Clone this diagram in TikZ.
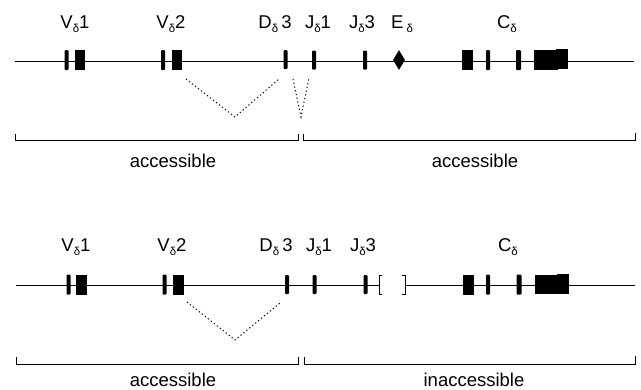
\documentclass[tikz,border=0pt]{standalone}
\usepackage{fontspec}
\setmainfont{Liberation Sans}
\usetikzlibrary{shapes.geometric}
% lowered small delta used as the locus subscript
\newcommand\dsub{\raisebox{-4pt}{\fontsize{11.5}{12}\selectfont δ}}
\begin{document}
\begin{tikzpicture}[x=1pt,y=-1pt,
  exon/.style={fill=black,draw=none,rectangle,inner sep=0pt,minimum height=20pt},
  bar/.style={exon,minimum width=4pt,rounded corners=1pt},
  enh/.style={fill=black,draw=none,diamond,inner sep=0pt,minimum width=12pt,minimum height=20pt},
  backbone/.style={line width=0.9pt},
  gap/.style={line width=0.9pt},
  recomb/.style={line width=1pt,dash pattern=on 1.2pt off 2.6pt},
  region/.style={line width=0.9pt},
  lbl/.style={anchor=base,inner sep=0pt,font=\fontsize{18.5}{20}\selectfont},
  reglbl/.style={anchor=base,inner sep=0pt,font=\fontsize{18.5}{20}\selectfont}]
\useasboundingbox (0,0) rectangle (641,389);

% ---------------- upper locus: enhancer present ----------------
\node[lbl] (tV1) at (75,28) {V\dsub1};
\node[lbl] (tV2) at (171,28) {V\dsub2};
\node[lbl] (tD3) at (275,28) {D\dsub\,3};
\node[lbl] (tJ1) at (318,28) {J\dsub1};
\node[lbl] (tJ3) at (362,28) {J\dsub3};
\node[lbl] (tE)  at (402,28) {E\,\dsub};
\node[lbl] (tC)  at (507,28) {C\dsub};

\coordinate (aL) at (15,61);
\coordinate (aR) at (634,61);
\draw[backbone] (aL) -- (aR);

\node[bar]  (aV1a) at (66.5,60) {};
\node[exon,minimum width=10pt] (aV1b) at (80,60) {};
\node[bar]  (aV2a) at (163,60) {};
\node[exon,minimum width=10pt] (aV2b) at (177,60) {};
\node[bar,minimum height=19pt] (aD3) at (285.5,59.5) {};
\node[bar,minimum height=19pt] (aJ1) at (314,60) {};
\node[bar,minimum height=19pt] (aJ3) at (365,60) {};
\node[enh]  (aE)  at (399,60) {};
\node[exon,minimum width=11pt] (aC1) at (467.5,60) {};
\node[bar]  (aC2) at (488,60) {};
\node[bar,minimum width=5pt] (aC3) at (518.5,60) {};
\node[exon,minimum width=24pt,minimum height=19.5pt] (aC4) at (545.5,60.2) {};
\node[exon,minimum width=12pt] (aC5) at (562,59) {};

% deletions joining V to D and D to J
\coordinate (a1s) at (186,79);
\coordinate (a1m) at (235,117);
\coordinate (a1e) at (279,79);
\draw[recomb] (a1s) -- (a1m) -- (a1e);
\coordinate (a2s) at (293,79);
\coordinate (a2m) at (301,117);
\coordinate (a2e) at (309,78);
\draw[recomb] (a2s) -- (a2m) -- (a2e);

% chromatin regions
\coordinate (ab1) at (15,134);
\coordinate (ab2) at (15,140);
\coordinate (ab3) at (298,140);
\coordinate (ab4) at (298,134);
\draw[region] (ab1) -- (ab2) -- (ab3) -- (ab4);
\coordinate (ac1) at (303,134);
\coordinate (ac2) at (303,140);
\coordinate (ac3) at (635,140);
\coordinate (ac4) at (635,133);
\draw[region] (ac1) -- (ac2) -- (ac3) -- (ac4);
\node[reglbl] (aLab) at (173,167) {accessible};
\node[reglbl] (aRab) at (475,167) {accessible};

% ---------------- lower locus: enhancer deleted ----------------
\node[lbl] (bV1) at (76,251) {V\dsub1};
\node[lbl] (bV2) at (172,251) {V\dsub2};
\node[lbl] (bD3) at (276,251) {D\dsub\,3};
\node[lbl] (bJ1) at (319,251) {J\dsub1};
\node[lbl] (bJ3) at (363,251) {J\dsub3};
\node[lbl] (bC)  at (508,251) {C\dsub};

\coordinate (bL) at (16,285);
\coordinate (bR) at (635,285);
\coordinate (bo) at (379,285);
\coordinate (bc) at (405,285);
\draw[backbone] (bL) -- (bo);
\draw[backbone] (bc) -- (bR);
% deleted enhancer marked by square brackets
\draw[gap] ([xshift=3pt]bo |- 0,275) -- (379,275) -- (379,294) -- ([xshift=3pt]bo |- 0,294);
\draw[gap] ([xshift=-3pt]bc |- 0,275) -- (405,275) -- (405,294) -- ([xshift=-3pt]bc |- 0,294);

\node[bar]  (bV1a) at (68.5,284.5) {};
\node[exon,minimum width=11pt] (bV1b) at (81.5,284.5) {};
\node[bar]  (bV2a) at (164.5,284.5) {};
\node[exon,minimum width=11pt] (bV2b) at (178.5,284.5) {};
\node[bar,minimum height=19pt] (bD3) at (287,284.5) {};
\node[bar,minimum height=19pt] (bJ1) at (314.5,284.5) {};
\node[bar,minimum height=19pt] (bJ3) at (365.5,284.5) {};
\node[exon,minimum width=11pt] (bC1) at (468.5,284.5) {};
\node[bar]  (bC2) at (488,284.5) {};
\node[bar,minimum width=5pt] (bC3) at (519,284.5) {};
\node[exon,minimum width=24pt,minimum height=19.5pt] (bC4) at (546.5,284.7) {};
\node[exon,minimum width=12pt] (bC5) at (563,283.5) {};

\coordinate (b1s) at (187,302);
\coordinate (b1m) at (235,340);
\coordinate (b1e) at (280,303);
\draw[recomb] (b1s) -- (b1m) -- (b1e);

\coordinate (bb1) at (16,357);
\coordinate (bb2) at (16,364);
\coordinate (bb3) at (298,364);
\coordinate (bb4) at (298,357);
\draw[region] (bb1) -- (bb2) -- (bb3) -- (bb4);
\coordinate (bd1) at (304,357);
\coordinate (bd2) at (304,364);
\coordinate (bd3) at (635,364);
\coordinate (bd4) at (635,356);
\draw[region] (bd1) -- (bd2) -- (bd3) -- (bd4);
\node[reglbl] (bLab) at (173,386.5) {accessible};
\node[reglbl] (bRab) at (474,386.5) {inaccessible};
\end{tikzpicture}
\end{document}
